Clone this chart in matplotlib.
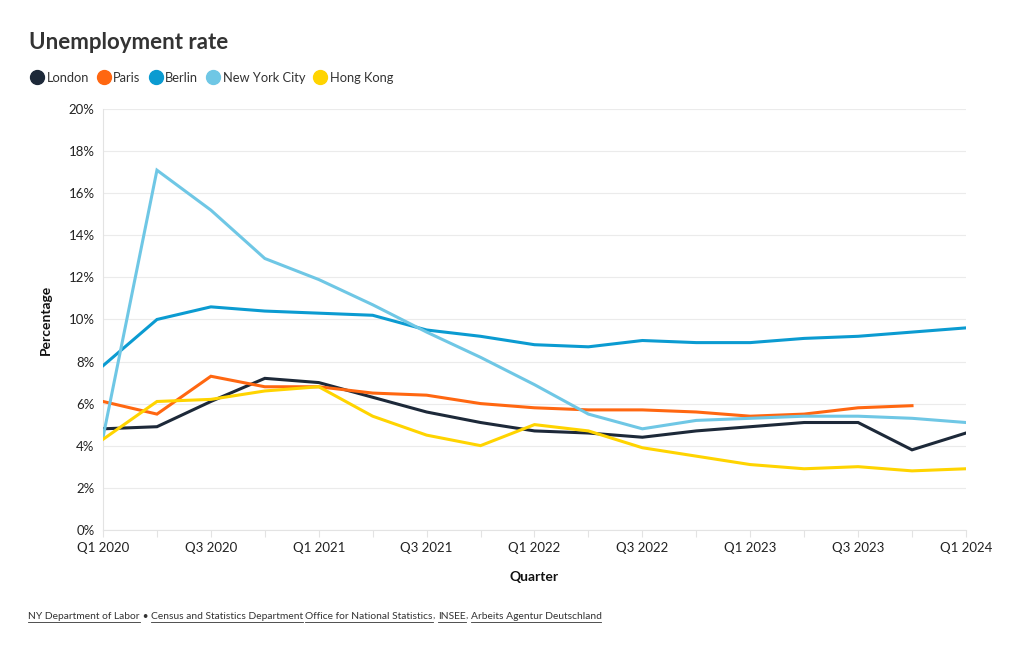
import matplotlib
matplotlib.use("Agg")
import matplotlib.pyplot as plt
from matplotlib.lines import Line2D
from matplotlib.ticker import FuncFormatter, MultipleLocator

plt.rcParams['font.family'] = ['Lato', 'DejaVu Sans']

quarters = ['Q1 2020', 'Q2 2020', 'Q3 2020', 'Q4 2020',
            'Q1 2021', 'Q2 2021', 'Q3 2021', 'Q4 2021',
            'Q1 2022', 'Q2 2022', 'Q3 2022', 'Q4 2022',
            'Q1 2023', 'Q2 2023', 'Q3 2023', 'Q4 2023', 'Q1 2024']

london = [4.8, 4.9, 6.1, 7.2, 7.0, 6.3, 5.6, 5.1, 4.7, 4.6, 4.4, 4.7, 4.9, 5.1, 5.1, 3.8, 4.6]
paris = [6.1, 5.5, 7.3, 6.8, 6.8, 6.5, 6.4, 6.0, 5.8, 5.7, 5.7, 5.6, 5.4, 5.5, 5.8, 5.9, None]
berlin = [7.8, 10.0, 10.6, 10.4, 10.3, 10.2, 9.5, 9.2, 8.8, 8.7, 9.0, 8.9, 8.9, 9.1, 9.2, 9.4, 9.6]
nyc = [4.4, 17.1, 15.2, 12.9, 11.9, 10.7, 9.4, 8.2, 6.9, 5.5, 4.8, 5.2, 5.3, 5.4, 5.4, 5.3, 5.1]
hong_kong = [4.3, 6.1, 6.2, 6.6, 6.8, 5.4, 4.5, 4.0, 5.0, 4.7, 3.9, 3.5, 3.1, 2.9, 3.0, 2.8, 2.9]

series = [
    ('London', london, '#1d2939'),
    ('Paris', paris, '#ff6711'),
    ('Berlin', berlin, '#0b9bd1'),
    ('New York City', nyc, '#6fc7e5'),
    ('Hong Kong', hong_kong, '#ffd400'),
]

fig = plt.figure(figsize=(10.2, 6.5), dpi=100)
ax = fig.add_axes([0.101, 0.185, 0.846, 0.647])

x = list(range(len(quarters)))
for name, vals, color in series:
    xs = [i for i, v in zip(x, vals) if v is not None]
    ys = [v for v in vals if v is not None]
    ax.plot(xs, ys, color=color, lw=2.2, solid_joinstyle='miter', zorder=3)

ax.set_xlim(0, len(quarters) - 1)
ax.set_ylim(0, 20)
ax.yaxis.set_major_locator(MultipleLocator(2))
ax.yaxis.set_major_formatter(FuncFormatter(lambda v, p: f'{v:.0f}%'))
ax.set_xticks(x)
ax.set_xticklabels([q if i % 2 == 0 else '' for i, q in enumerate(quarters)])
ax.grid(axis='y', color='#ebebeb', lw=0.8, zorder=0)
for s in ['top', 'right']:
    ax.spines[s].set_visible(False)
for s in ['left', 'bottom']:
    ax.spines[s].set_color('#e3e3e3')
    ax.spines[s].set_linewidth(0.8)
ax.tick_params(axis='x', length=5, color='#e3e3e3', labelsize=9.5, pad=4, labelcolor='#222222')
ax.tick_params(axis='y', length=0, labelsize=9.5, pad=6, labelcolor='#222222')

ax.set_xlabel('Quarter', fontsize=10, fontweight='bold', labelpad=12, color='#111111')
ax.set_ylabel('Percentage', fontsize=10, fontweight='bold', labelpad=12, color='#111111')

fig.text(0.028, 0.935, 'Unemployment rate', fontsize=16, fontweight='bold',
         color='#333333', va='center')

handles = [Line2D([], [], marker='o', ls='', markersize=10, color=c) for _, _, c in series]
fig.legend(handles, [n for n, _, _ in series], loc='center left',
           bbox_to_anchor=(0.017, 0.88), ncol=5, frameon=False, fontsize=9.3,
           handletextpad=0.15, columnspacing=0.55, handlelength=1.2,
           labelcolor='#333333')

# source line with underlined links
pieces = [('NY Department of Labor', True), (' \u2022 ', False),
          ('Census and Statistics Department', True), (' ', False),
          ('Office for National Statistics', True), (', ', False),
          ('INSEE', True), (', ', False), ('Arbeits Agentur Deutschland', True)]
fig.canvas.draw()
renderer = fig.canvas.get_renderer()
xpos = 28
ypix = 650 - 619
for txt, underline in pieces:
    t = fig.text(xpos / 1020, ypix / 650, txt, fontsize=7.4, color='#333333',
                 va='baseline', ha='left')
    bb = t.get_window_extent(renderer=renderer)
    if underline:
        fig.add_artist(Line2D([bb.x0 / 1020, bb.x1 / 1020],
                              [(ypix - 2.5) / 650, (ypix - 2.5) / 650],
                              color='#333333', lw=0.6))
    xpos = bb.x1

fig.savefig('out.png', dpi=100)
